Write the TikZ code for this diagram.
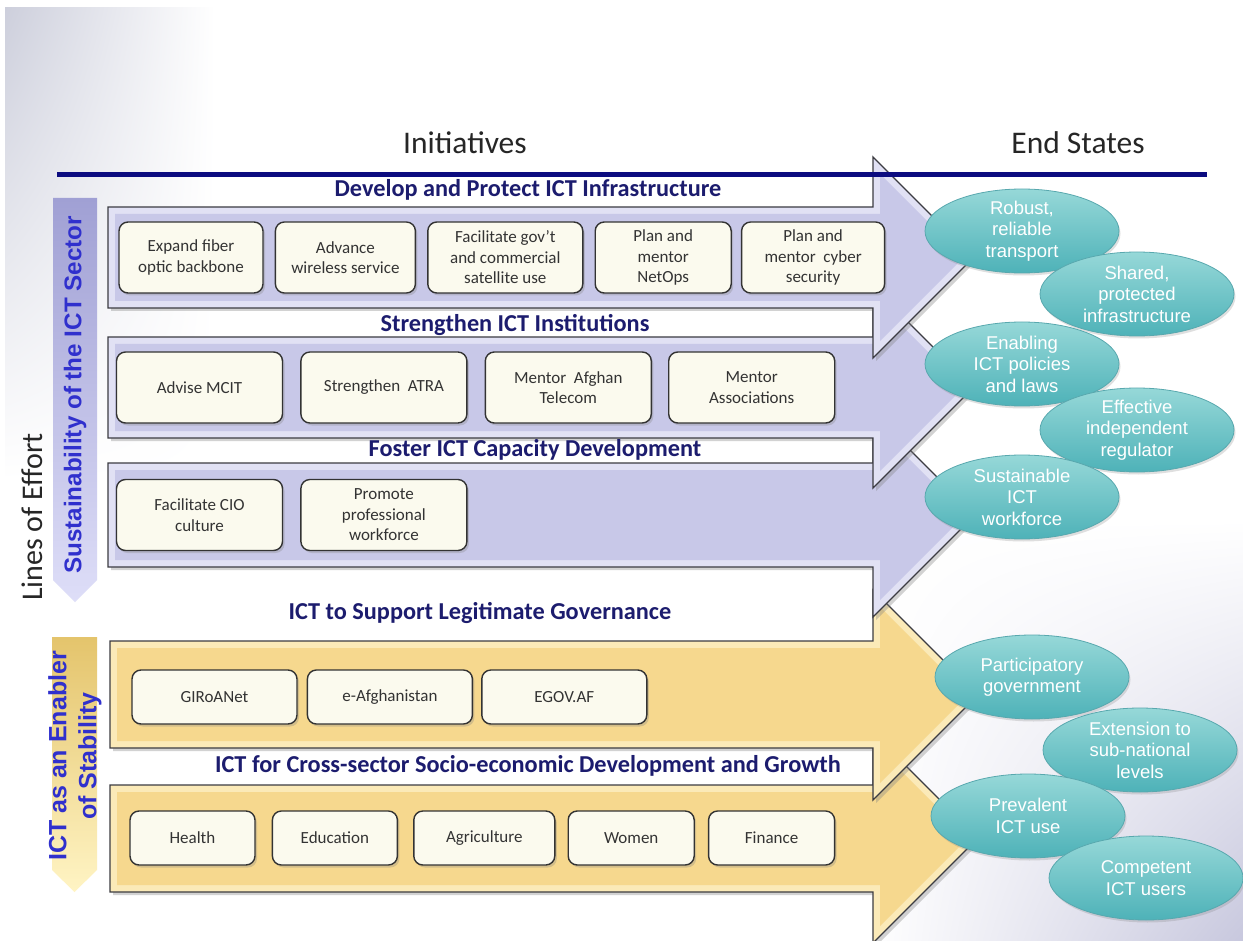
\documentclass[tikz,border=0pt]{standalone}
\usepackage{fontspec}
\setmainfont{Carlito}
\newfontfamily\arialfont{Liberation Sans}
\usetikzlibrary{shapes,arrows,shadows,shadings,positioning}

\definecolor{navyline}{RGB}{12,12,128}
\definecolor{titleblue}{RGB}{28,28,110}
\definecolor{sideblue}{RGB}{48,48,205}
\definecolor{boxfill}{RGB}{251,250,238}
\definecolor{arrowedge}{RGB}{60,60,66}
\definecolor{purplefill}{RGB}{200,200,232}
\definecolor{purplebevel}{RGB}{225,225,244}
\definecolor{goldfill}{RGB}{246,216,142}
\definecolor{goldbevel}{RGB}{251,234,184}
\definecolor{teallight}{RGB}{150,216,216}
\definecolor{tealdark}{RGB}{78,178,184}
\definecolor{tealedge}{RGB}{88,168,174}
\definecolor{bgleft}{RGB}{205,207,220}
\definecolor{bgright}{RGB}{200,200,222}

\tikzstyle{header} = [font=\fontsize{31.5}{36}\selectfont, text=black!85]
\tikzstyle{loetitle} = [font=\bfseries\fontsize{24.3}{28}\selectfont, text=titleblue]
\tikzstyle{initbox} = [rectangle, rounded corners=9pt, minimum height=71pt, align=center, draw=black!80, line width=1.4pt, fill=boxfill, text=black!80, inner sep=2pt, font=\fontsize{17}{20.5}\selectfont, drop shadow={opacity=0.3, shadow xshift=2pt, shadow yshift=-2.5pt}]
\tikzstyle{lowbox} = [initbox, minimum height=54pt]
\tikzstyle{endstate} = [ellipse, minimum width=194pt, minimum height=84pt, inner xsep=0pt, inner ysep=-8pt, align=center, draw=tealedge, line width=0.8pt, top color=teallight, bottom color=tealdark, text=white, font=\arialfont\fontsize{18.5}{21.5}\selectfont, drop shadow={opacity=0.25, shadow xshift=1.5pt, shadow yshift=-2.5pt}]
\tikzstyle{purplearrow} = [draw=arrowedge, line width=1.3pt, fill=purplebevel, drop shadow={opacity=0.35, shadow xshift=3pt, shadow yshift=-3pt}]
\tikzstyle{purplebody} = [fill=purplefill]
\tikzstyle{goldarrow} = [draw=arrowedge, line width=1.3pt, fill=goldbevel, drop shadow={opacity=0.35, shadow xshift=3pt, shadow yshift=-3pt}]
\tikzstyle{goldbody} = [fill=goldfill]
\tikzstyle{sidelabel} = [rotate=90, font=\arialfont\bfseries\fontsize{24.2}{30}\selectfont, text=sideblue, align=center]

\begin{document}
\begin{tikzpicture}[x=1pt, y=-1pt]
\useasboundingbox (0,0) rectangle (1243,941);

% background
\fill[white] (0,0) rectangle (1243,941);
\shade[upper left=bgleft, upper right=white, lower left=white, lower right=white] (5,8) rectangle (215,480);
\shade[upper left=white, upper right=white, lower left=white, lower right=bgright] (870,520) rectangle (1243,941);

% side arrows
\shade[top color={rgb,255:red,160;green,160;blue,212}, bottom color={rgb,255:red,222;green,222;blue,248}] (53,198) -- (97,198) -- (97,580) -- (75,602) -- (53,580) -- cycle;
\shade[top color={rgb,255:red,228;green,196;blue,108}, bottom color={rgb,255:red,255;green,244;blue,196}] (52,637) -- (97,637) -- (97,870) -- (74.5,892) -- (52,870) -- cycle;

% lines of effort, drawn bottom to top
\draw[goldarrow] (110,785) -- (873,785) -- (873,733) -- (978,838) -- (873,943) -- (873,892) -- (110,892) -- cycle;
\fill[goldbody] (117,792) -- (880,792) -- (880,749.9) -- (968.1,838) -- (880,926.1) -- (880,885) -- (117,885) -- cycle;
\draw[goldarrow] (110,641) -- (873,641) -- (873,590) -- (978,695) -- (873,800) -- (873,748) -- (110,748) -- cycle;
\fill[goldbody] (117,648) -- (880,648) -- (880,606.9) -- (968.1,695) -- (880,783.1) -- (880,741) -- (117,741) -- cycle;
\draw[purplearrow] (108,463) -- (873,463) -- (873,413) -- (975,515) -- (873,617) -- (873,567) -- (108,567) -- cycle;
\fill[purplebody] (115,470) -- (880,470) -- (880,429.9) -- (965.1,515) -- (880,600.1) -- (880,560) -- (115,560) -- cycle;
\draw[purplearrow] (108,337) -- (873,337) -- (873,287) -- (973.5,387.5) -- (873,488) -- (873,438) -- (108,438) -- cycle;
\fill[purplebody] (115,344) -- (880,344) -- (880,303.9) -- (963.6,387.5) -- (880,471.1) -- (880,431) -- (115,431) -- cycle;
\draw[purplearrow] (108,207) -- (873,207) -- (873,157) -- (973.5,257.5) -- (873,358) -- (873,308) -- (108,308) -- cycle;
\fill[purplebody] (115,214) -- (880,214) -- (880,173.9) -- (963.6,257.5) -- (880,341.1) -- (880,301) -- (115,301) -- cycle;

\draw[line width=5pt, navyline] (57,174.5) -- (1207,174.5);

% headings
\node (init) at (465,143) [header] {Initiatives};
\node (endst) at (1078,143) [header] {End States};
\node (loe) at (32,517) [header, rotate=90, font=\fontsize{30}{36}\selectfont] {Lines of Effort};
\node (sust) at (75,395) [sidelabel] {Sustainability of the ICT Sector};
\node (enab) at (75,756) [sidelabel, font=\arialfont\bfseries\fontsize{25}{30}\selectfont] {ICT as an Enabler\\of Stability};

% titles
\node (t1) at (528,190) [loetitle] {Develop and Protect ICT Infrastructure};
\node (t2) at (515,325) [loetitle] {Strengthen ICT Institutions};
\node (t3) at (535,450) [loetitle] {Foster ICT Capacity Development};
\node (t4) at (480,613) [loetitle] {ICT to Support Legitimate Governance};
\node (t5) at (528,766) [loetitle] {ICT for Cross-sector Socio-economic Development and Growth};

% initiatives
\node (b11) at (191,257.5) [initbox, minimum width=144pt] {Expand fiber\\optic backbone};
\node (b12) [initbox, minimum width=140pt, right=11pt of b11] {Advance\\wireless service};
\node (b13) [initbox, minimum width=155pt, right=11pt of b12] {Facilitate gov’t\\and commercial\\satellite use};
\node (b14) [initbox, minimum width=136pt, right=11pt of b13] {Plan and\\mentor\\NetOps};
\node (b15) [initbox, minimum width=143pt, right=9pt of b14] {Plan and\\mentor\ \ cyber\\security};

\node (b21) at (199.5,387.5) [initbox, minimum width=166pt] {Advise MCIT};
\node (b22) [initbox, minimum width=166pt, right=17pt of b21] {Strengthen\ \ ATRA};
\node (b23) [initbox, minimum width=166pt, right=17pt of b22] {Mentor\ \ Afghan\\Telecom};
\node (b24) [initbox, minimum width=166pt, right=16pt of b23] {Mentor\\Associations};

\node (b31) at (199.5,515) [initbox, minimum width=166pt] {Facilitate CIO\\culture};
\node (b32) [initbox, minimum width=166pt, right=17pt of b31] {Promote\\professional\\workforce};

\node (b41) at (214.5,697) [lowbox, minimum width=165pt] {GIRoANet};
\node (b42) [lowbox, minimum width=165pt, right=9pt of b41] {e-Afghanistan};
\node (b43) [lowbox, minimum width=165pt, right=8pt of b42] {EGOV.AF};

\node (b51) at (192.5,838) [lowbox, minimum width=125pt] {Health};
\node (b52) [lowbox, minimum width=125pt, right=16pt of b51] {Education};
\node (b53) [lowbox, minimum width=141pt, right=15pt of b52] {Agriculture};
\node (b54) [lowbox, minimum width=126pt, right=12pt of b53] {Women};
\node (b55) [lowbox, minimum width=126pt, right=13pt of b54] {Finance};

% end states
\node (e1) at (1022,231) [endstate] {Robust,\\reliable\\transport};
\node (e2) at (1137,294) [endstate] {Shared,\\protected\\infrastructure};
\node (e3) at (1022,364) [endstate] {Enabling\\ICT policies\\and laws};
\node (e4) at (1137,430) [endstate] {Effective\\independent\\regulator};
\node (e5) at (1022,497) [endstate] {Sustainable\\ICT\\workforce};
\node (e6) at (1032,677) [endstate] {Participatory\\government};
\node (e7) at (1140,750) [endstate] {Extension to\\sub-national\\levels};
\node (e8) at (1028,816) [endstate] {Prevalent\\ICT use};
\node (e9) at (1146,878) [endstate] {Competent\\ICT users};
\end{tikzpicture}
\end{document}
